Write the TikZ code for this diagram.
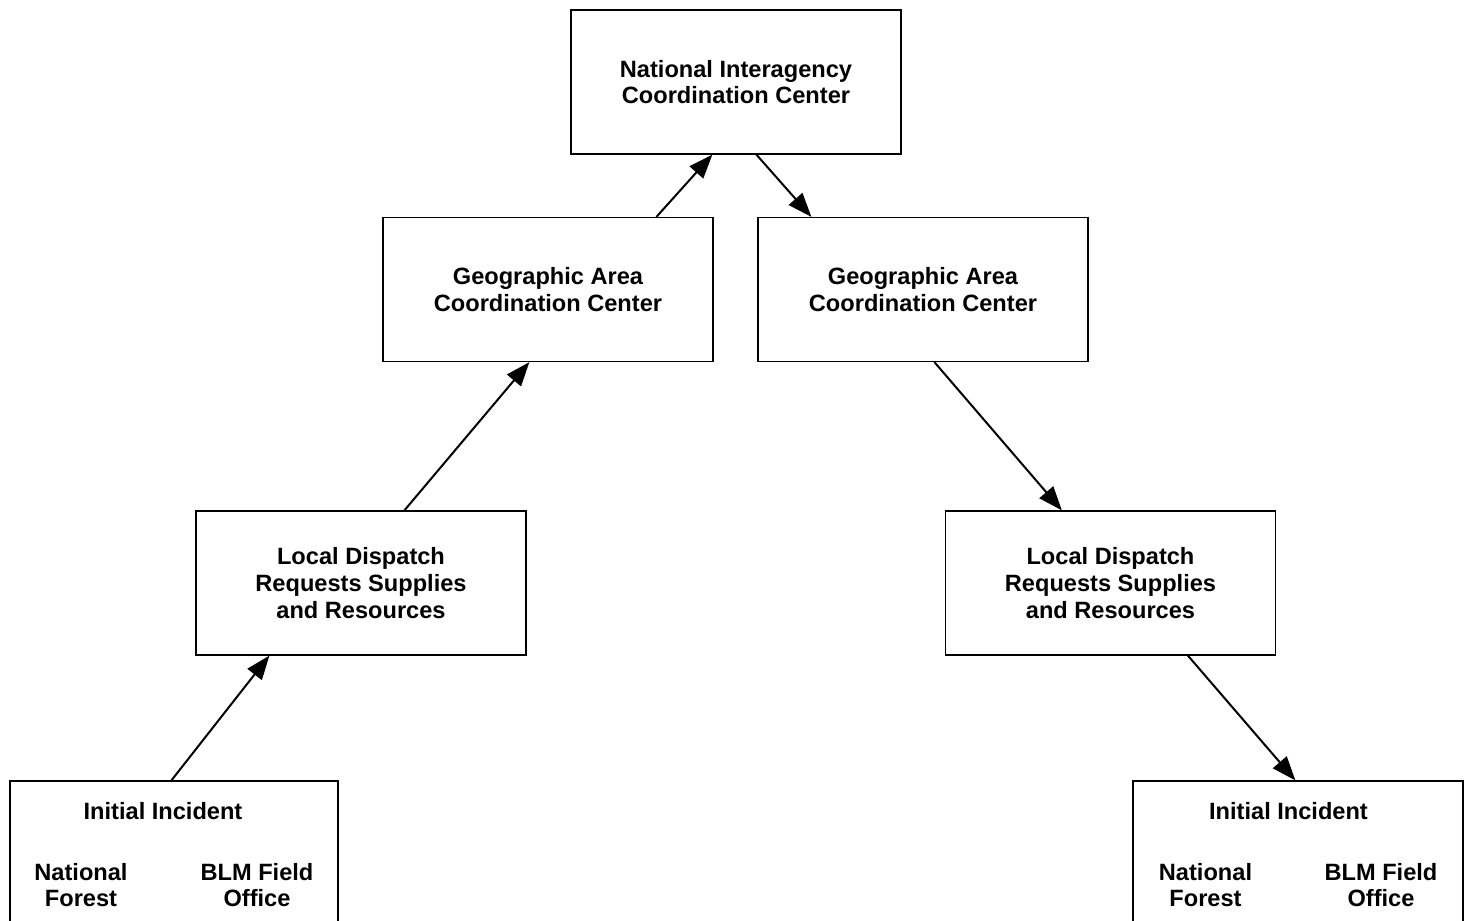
\documentclass[tikz,border=0pt]{standalone}
\usepackage{fontspec}
\setmainfont{Liberation Sans}
\usetikzlibrary{arrows.meta,calc}
\begin{document}
\begin{tikzpicture}[x=0.5pt,y=-0.5pt,
  box/.style={draw,line width=0.6pt,minimum width=165pt,minimum height=72pt,inner sep=0pt,
    font=\fontsize{11.8pt}{13.4pt}\selectfont\bfseries,align=center},
  lbl/.style={inner sep=0pt,font=\fontsize{11.8pt}{13.4pt}\selectfont\bfseries,align=center},
  conn/.style={line width=1pt,-{Triangle[length=12pt,width=9pt]}}]
\useasboundingbox (0,0) rectangle (1469,921);
\clip (0,0) rectangle (1469,921);
\node[box] (nicc) at (736,82) {National Interagency\\Coordination Center};
\node[box] (gl) at (548,289.5) {Geographic Area\\Coordination Center};
\node[box] (gr) at (923,289.5) {Geographic Area\\Coordination Center};
\node[box] (ll) at (361,583) {Local Dispatch\\Requests Supplies\\and Resources};
\node[box] (lr) at (1110.5,583) {Local Dispatch\\Requests Supplies\\and Resources};
\node[box,minimum width=164pt,minimum height=80pt] (il) at (174,861) {};
\node[box,minimum width=165pt,minimum height=80pt] (ir) at (1298,861) {};
\node[lbl] (il1) at (163,811) {Initial Incident};
\node[lbl] (il2) at (81,885) {National\\Forest};
\node[lbl] (il3) at (257,885) {BLM Field\\Office};
\node[lbl] (ir1) at (1288.5,811) {Initial Incident};
\node[lbl] (ir2) at (1205.5,885) {National\\Forest};
\node[lbl] (ir3) at (1381,885) {BLM Field\\Office};
\draw[conn] ($(il.north west)+(162,0)$) -- ($(ll.south west)+(74,0)$);
\draw[conn] ($(ll.north west)+(209,0)$) -- ($(gl.south west)+(147,0)$);
\draw[conn] ($(gl.north west)+(274,0)$) -- ($(nicc.south west)+(142,0)$);
\draw[conn] ($(nicc.south west)+(186,0)$) -- ($(gr.north west)+(54,0)$);
\draw[conn] ($(gr.south west)+(177,0)$) -- ($(lr.north west)+(117,0)$);
\draw[conn] ($(lr.south west)+(243,0)$) -- ($(ir.north west)+(163,0)$);
\end{tikzpicture}
\end{document}
